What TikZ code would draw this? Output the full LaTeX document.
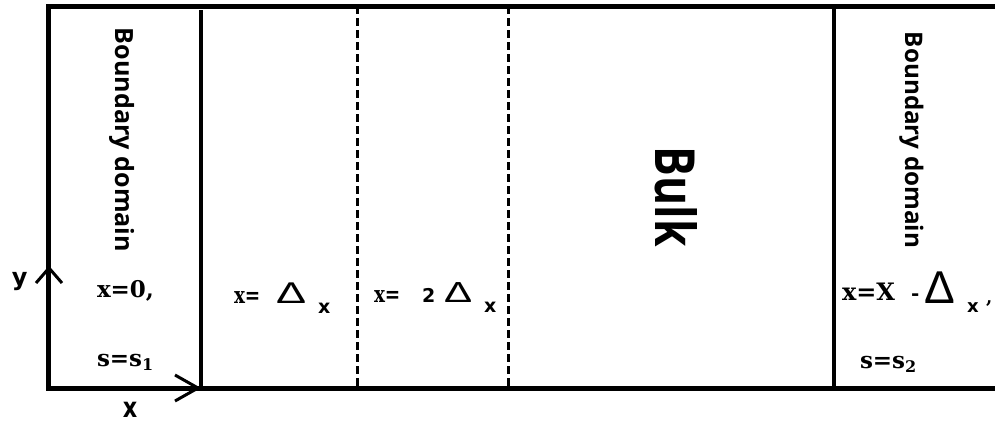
\documentclass[tikz,border=0pt]{standalone}
\usepackage{fontspec}
\usepackage{graphicx}
\newfontfamily\dserif{DejaVu Serif}
\newfontfamily\dsans{DejaVu Sans}
\newfontfamily\lsans{Liberation Sans}
\newfontfamily\osans{Open Sans}
\newcommand\setfs[1]{\fontsize{#1}{#1}\selectfont}
\tikzset{
  lbl/.style={inner sep=0pt, outer sep=0pt, anchor=base west},
  vlbl/.style={inner sep=0pt, outer sep=0pt, anchor=base, rotate=-90},
  serifb/.style={font=\dserif\bfseries\setfs{#1}},
  sansb/.style={font=\dsans\bfseries\setfs{#1}},
  sansr/.style={font=\dsans\setfs{#1}},
  delta/.style={font=\lsans\setfs{#1}},
  border/.style={line width=5pt, line join=miter},
  divider/.style={line width=3.5pt},
  dashdiv/.style={line width=3pt, dash pattern=on 8pt off 4pt},
  chev/.style={line width=3pt, line join=miter},
}
\begin{document}
\begin{tikzpicture}[x=1pt,y=-1pt]
\useasboundingbox[fill=white] (0,0) rectangle (995,426);
% frame
\draw[border] (995,6) -- (48,6) -- (48,388) -- (995,388);
% dividers
\draw[divider] (201,10) -- (201,388);
\draw[dashdiv] (357,6) -- (357,388);
\draw[dashdiv] (508,6) -- (508,388);
\draw[line width=4pt] (834,6) -- (834,388);
% axis chevrons
\draw[chev] (36,283) -- (49,268) -- (62,283);
\draw[chev] (175,375) -- (198,388) -- (175,401);
\node[lbl, sansb=24] (ylab) at (12,285) {y};
\node[inner sep=0pt, sansb=28] (xlab) at (130,410) {\scalebox{0.8}[1]{x}};
% rotated labels
\node[vlbl] (bdl) at (115,140) {\resizebox{224pt}{!}{\osans\bfseries Boundary domain}};
\node[vlbl] (bdr) at (905,140) {\resizebox{216pt}{!}{\osans\bfseries Boundary domain}};
\node[vlbl] (bulk) at (655,197) {\resizebox{100pt}{42pt}{\osans\bfseries Bulk}};
% left column
\node[lbl, serifb=23] (x0) at (97,297) {x=0,};
\node[lbl, serifb=23] (s1) at (97,366) {s=s\raisebox{-4pt}{\setfs{16}1}};
% column 2
\node[lbl, serifb=23] (xa) at (234,303) {\scalebox{0.8}[1]{x=}};
\node[lbl, delta=30] (da) at (276,303.5) {\scalebox{1.5}[1]{Δ}};
\node[lbl, sansb=19] (sa) at (318,313) {x};
% column 3
\node[lbl, serifb=23] (xb) at (374,302) {\scalebox{0.8}[1]{x=}};
\node[lbl, sansb=19] (tb) at (422,302) {2};
\node[lbl, delta=29] (db) at (444,302.5) {\scalebox{1.45}[1]{Δ}};
\node[lbl, sansb=19] (sb) at (484,312) {x};
% right column
\node[lbl, serifb=24] (xc) at (842,300) {x=X};
\node[lbl, serifb=20] (mc) at (911,300) {-};
\node[lbl, delta=46] (dc) at (924,303.5) {Δ};
\node[lbl, sansb=18] (sc) at (967,312) {x};
\node[lbl, serifb=18] (cc) at (986,303) {,};
\node[lbl, serifb=23] (s2) at (860,368) {s=s\raisebox{-4pt}{\setfs{16}2}};
\end{tikzpicture}
\end{document}
